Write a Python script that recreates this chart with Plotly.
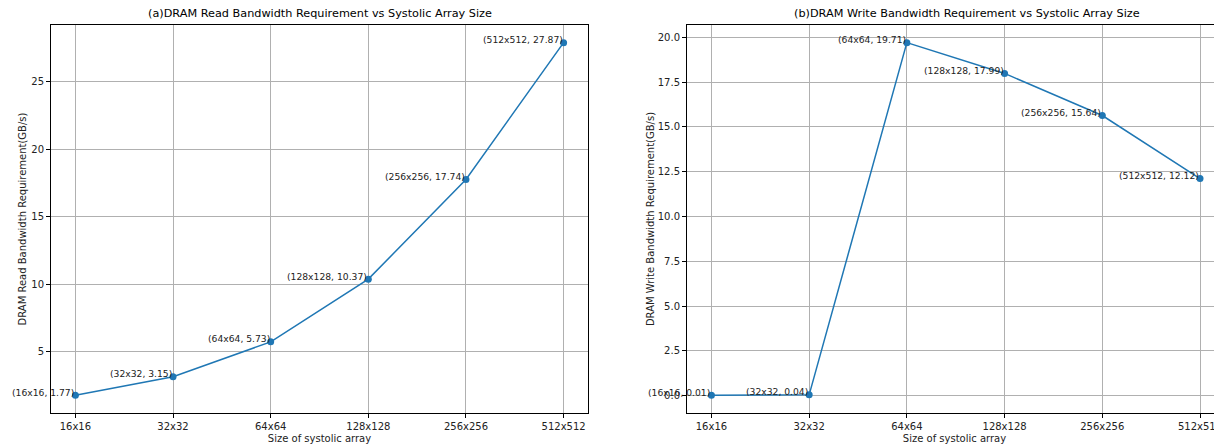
import plotly.graph_objects as go

sizes = ["16x16", "32x32", "64x64", "128x128", "256x256", "512x512"]
read_bw = [1.77, 3.15, 5.73, 10.37, 17.74, 27.87]
write_bw = [0.01, 0.04, 19.71, 17.99, 15.64, 12.12]

BLUE = "#1f77b4"
FONT = "DejaVu Sans"

fig = go.Figure()
fig.add_trace(go.Scatter(x=sizes, y=read_bw, mode="lines+markers",
                         line=dict(color=BLUE, width=1.5),
                         marker=dict(color=BLUE, size=7),
                         xaxis="x", yaxis="y", showlegend=False))
fig.add_trace(go.Scatter(x=sizes, y=write_bw, mode="lines+markers",
                         line=dict(color=BLUE, width=1.5),
                         marker=dict(color=BLUE, size=7),
                         xaxis="x2", yaxis="y2", showlegend=False))

for xs, ys, xr, yr in [(sizes, read_bw, "x", "y"), (sizes, write_bw, "x2", "y2")]:
    for s, v in zip(xs, ys):
        fig.add_annotation(x=s, y=v, xref=xr, yref=yr, text=f"({s}, {v:.2f})",
                           showarrow=False, xanchor="right", yanchor="middle",
                           yshift=3, xshift=1,
                           font=dict(family=FONT, size=9.2, color="#222"))

# page body has an 8px margin; compensate so the plot lands where the reference has it
OFF = 8
W, H = 1222 - OFF, 444 - OFF
L, R, T, B = 51 - OFF, 0, 25 - OFF, 31
pw = W - L - R
d1 = [0, (588 - 51) / pw]
d2 = [(687 - 51) / pw, 1]

axis_common = dict(showgrid=True, gridcolor="#b0b0b0", gridwidth=0.8,
                   showline=True, linecolor="black", linewidth=1,
                   ticks="outside", ticklen=4, tickcolor="black",
                   tickfont=dict(family=FONT, size=10, color="#222"),
                   zeroline=False, automargin=False, ticklabeloverflow="allow")

fig.update_layout(
    width=W, height=H,
    margin=dict(l=L, r=R, t=T, b=B),
    paper_bgcolor="white", plot_bgcolor="white",
    font=dict(family=FONT, size=10, color="#222"),
    xaxis=dict(domain=d1, type="category", range=[-0.25, 5.25], mirror=True,
               title=dict(text="Size of systolic array", standoff=4,
                          font=dict(family=FONT, size=10)),
               anchor="y", **axis_common),
    yaxis=dict(domain=[0, 1], range=[0.465, 29.175], mirror=True,
               tickvals=[5, 10, 15, 20, 25],
               title=dict(text="DRAM Read Bandwidth Requirement(GB/s)", standoff=2,
                          font=dict(family=FONT, size=10)),
               anchor="x", **axis_common),
    xaxis2=dict(domain=d2, type="category", range=[-0.25, 5.225], mirror=True,
                title=dict(text="Size of systolic array", standoff=4,
                           font=dict(family=FONT, size=10)),
                anchor="y2", **axis_common),
    yaxis2=dict(domain=[0, 1], range=[-0.975, 20.695],
                tickvals=[0, 2.5, 5, 7.5, 10, 12.5, 15, 17.5, 20], tickformat=".1f",
                title=dict(text="DRAM Write Bandwidth Requirement(GB/s)", standoff=1,
                           font=dict(family=FONT, size=10)),
                anchor="x2", **axis_common),
)

fig.add_annotation(text="(a)DRAM Read Bandwidth Requirement vs Systolic Array Size",
                   xref="paper", yref="paper", x=(d1[0] + d1[1]) / 2, y=1,
                   yshift=3, xanchor="center", yanchor="bottom", showarrow=False,
                   font=dict(family=FONT, size=11.25, color="black"))
fig.add_annotation(text="(b)DRAM Write Bandwidth Requirement vs Systolic Array Size",
                   xref="paper", yref="paper", x=(d2[0] + 1 + 24.4 / pw) / 2, y=1,
                   yshift=3, xanchor="center", yanchor="bottom", showarrow=False,
                   font=dict(family=FONT, size=11.25, color="black"))

fig.write_html("out.html")
